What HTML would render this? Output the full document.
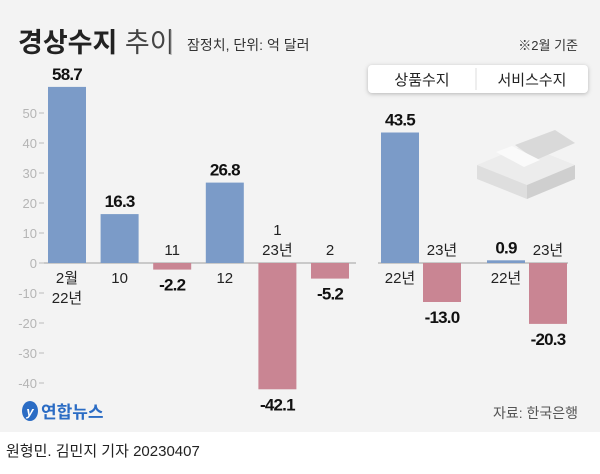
<!DOCTYPE html>
<html><head><meta charset="utf-8"><style>
body{margin:0;width:600px;height:469px;overflow:hidden;background:#fff;font-family:"Liberation Sans","Noto Sans CJK KR",sans-serif}
svg text{font-family:"Liberation Sans","Noto Sans CJK KR",sans-serif}
</style></head><body>
<svg width="600" height="469" viewBox="0 0 600 469">
<rect x="0" y="0" width="600" height="432" fill="#f3f3f3"/>
<text x="18" y="52" font-size="27" font-weight="bold" fill="#222">경상수지<tspan font-weight="normal" fill="#444"> 추이</tspan></text>
<line x1="171" y1="30" x2="171" y2="55" stroke="#999" stroke-width="1"/>
<text x="187" y="50" font-size="14" fill="#333">잠정치, 단위: 억 달러</text>
<text x="578" y="50" font-size="13" fill="#333" text-anchor="end">※2월 기준</text>
<g>
<rect x="368" y="65" width="220" height="28" rx="4" fill="#fff" style="filter:drop-shadow(0 1px 2px rgba(0,0,0,0.25))"/>
<line x1="476" y1="68" x2="476" y2="90" stroke="#ddd"/>
<text x="422" y="85" font-size="15" text-anchor="middle" fill="#222">상품수지</text>
<text x="532" y="85" font-size="15" text-anchor="middle" fill="#222">서비스수지</text>
</g>
<g>
<polygon points="477,165 525,145 575,165 527,185" fill="#ececec"/>
<polygon points="477,165 527,185 527,199 477,179" fill="#dedede"/>
<polygon points="527,185 575,165 575,179 527,199" fill="#cfcfcf"/>
<polygon points="515,145 555,130 575,143 536,160" fill="#d9d9d9"/>
<polygon points="496,152 512,146 540,160 524,167" fill="#fafafa"/>
</g>
<g id="axes"></g>
<g id="bars"></g>
<g id="labels"></g>
<g>
<ellipse cx="30" cy="411" rx="8" ry="10" fill="#2b6cc4"/>
<text x="30" y="416" font-size="13" font-weight="bold" fill="#fff" text-anchor="middle" font-style="italic">y</text>
<text x="41" y="418" font-size="17" font-weight="bold" fill="#2b6cc4">연합뉴스</text>
</g>
<text x="578" y="418" font-size="14" fill="#555" text-anchor="end">자료: 한국은행</text>
<text x="6" y="456" font-size="15" fill="#222">원형민. 김민지 기자  20230407</text>
</svg>
<script>
const leftCats=[["2월","22년"],["10"],["11"],["12"],["1","23년"],["2"]];
const leftVals=[58.7,16.3,-2.2,26.8,-42.1,-5.2];
const rightCats=[["22년"],["23년"],["22년"],["23년"]];
const rightVals=[43.5,-13.0,0.9,-20.3];
const yTicks=[50,40,30,20,10,0,-10,-20,-30,-40];
const NS="http://www.w3.org/2000/svg";
const y0=263,ppu=3;
function Y(v){return y0-v*ppu;}
function leftX(i){return 48+i*52.6;}
function rightX(i){return [381,423,487,529][i];}
const BW=38;
const ax=document.getElementById('axes'),bg=document.getElementById('bars'),lb=document.getElementById('labels');
function mk(tag,attrs,parent){const e=document.createElementNS(NS,tag);for(const k in attrs)e.setAttribute(k,attrs[k]);parent.appendChild(e);return e;}
yTicks.forEach(t=>{
 const tx=mk('text',{x:37,y:Y(t)+5,'font-size':13,fill:'#b5b5b5','text-anchor':'end'},ax);tx.textContent=t;
 
 
 const l=mk('line',{x1:39,x2:44,y1:Y(t),y2:Y(t),stroke:'#bbb'},ax);
 
 
});
function drawBars(vals,cats,xf,axisL,axisR,grp){
 vals.forEach((v,i)=>{
  const x=xf(i);
  const r=mk('rect',{x:x,width:BW,y:Math.min(Y(v),y0),height:Math.max(Math.abs(v)*ppu,1.5),fill:v>=0?'#7b9bc8':'#c98593'},bg);
  
  
  const vt=mk('text',{x:x+BW/2,'font-size':17,'font-weight':'bold',fill:'#111','text-anchor':'middle','letter-spacing':'-0.8'},lb);
  vt.textContent=v.toFixed(1);
  vt.setAttribute('y',v>=0?Y(v)-7:Y(v)+21);
  
  
  const c=cats[i];
  c.forEach((s,j)=>{
   const ct=mk('text',{x:x+BW/2,'font-size':15,fill:'#222','text-anchor':'middle'},lb);
   ct.textContent=s;
   let yy;
   if(v>=0) yy=y0+20+j*20; else yy=y0-8-(c.length-1-j)*20;
   ct.setAttribute('y',yy);
   
   
  });
 });
 const l=mk('line',{x1:axisL,x2:axisR,y1:y0,y2:y0,stroke:'#bbb','stroke-width':1.5},ax);
 
 
}
drawBars(leftVals,leftCats,leftX,44,356,'current-account');
drawBars(rightVals,rightCats,rightX,378,568,'goods-services');
</script>
</body></html>
